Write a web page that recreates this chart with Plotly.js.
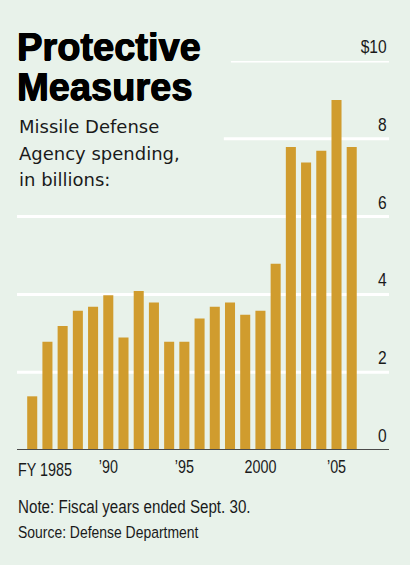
<!DOCTYPE html>
<html>
<head>
<meta charset="utf-8">
<script src="https://cdn.plot.ly/plotly-3.0.1.min.js"></script>
<style>
html,body{margin:0;padding:0;background:#ffffff;}
#chart{width:410px;height:565px;}
</style>
</head>
<body>
<div id="chart"></div>
<script>
// Data
const years = [1985,1986,1987,1988,1989,1990,1991,1992,1993,1994,1995,1996,1997,1998,1999,2000,2001,2002,2003,2004,2005,2006];
const spending = [1.38,2.78,3.19,3.58,3.68,3.98,2.89,4.09,3.79,2.78,2.78,3.38,3.68,3.79,3.48,3.58,4.79,7.79,7.39,7.69,9.0,7.79];
const xTickVals = [1990,1995,2000,2005];
const xTickText = ["\u201990","\u201995","2000","\u201905"];
const firstLabel = "FY 1985";
const yTickVals = [0,2,4,6,8,10];
const yTickText = ["0","2","4","6","8","$10"];
const gridStart = [0,0,0,0,0.556,0.575]; // gridlines at 8 and 10 stop short of the headline

const BG = '#e8f2ea';
const BAR = '#d09c2e';
const SANS = '"Liberation Sans", Arial, sans-serif';
const NARROW_SCALE = 0.82; // Arial -> Arial Narrow proportions

// plot area geometry (pixels) for placing text
const W = 410, H = 565;
const M = {l:17, r:21, t:61.3, b:H-450.3};
const ph = H - M.t - M.b, pw = W - M.l - M.r;
const py = px => (H - M.b - px) / ph;     // pixel y -> paper y
const pxx = px => (px - M.l) / pw;        // pixel x -> paper x

const annotations = [];
const narrowIdx = {};
function txt(text, x, base, size, family, asc, color, weight, narrow, shadow){
  if (narrow) narrowIdx[annotations.length] = 'left';
  const font = {family:family, size:size, color:color||'#111', weight:weight||'normal'};
  if (shadow) font.shadow = shadow;
  annotations.push({text:text, xref:'paper', yref:'paper', x:pxx(x), y:py(base - 1 - asc*size),
    xanchor:'left', yanchor:'top', showarrow:false, align:'left', font:font});
}
// Headline (heavy)
const heavy = '0.7px 0 0 #000, -0.4px 0 0 #000, 0 0.5px 0 #000';
txt('Protective', 15, 60, 38, SANS, 0.905, '#000', 'bold', false, heavy);
txt('Measures', 15, 100, 38, SANS, 0.905, '#000', 'bold', false, heavy);
// Subtitle
const sub = ['Missile Defense','Agency spending,','in billions:'];
const subBase = [132.5,159,185.5];
sub.forEach((s,i)=> txt(s, 17, subBase[i], 18, '"DejaVu Sans", sans-serif', 0.928, '#1a1a1a'));
// Notes
txt('Note: Fiscal years ended Sept. 30.', 16, 512, 18.5, SANS, 0.905, '#1a1a1a', 'normal', true);
txt('Source: Defense Department', 16, 538, 17, SANS, 0.905, '#1a1a1a', 'normal', true);
// First x label
txt(firstLabel, 16, 475, 17.5, SANS, 0.905, '#1a1a1a', 'normal', true);

// y tick labels above gridlines, right aligned
yTickVals.forEach((v,i)=>{
  narrowIdx[annotations.length] = 'right';
  annotations.push({text:yTickText[i], xref:'paper', yref:'y', x:1, y:v,
    xanchor:'right', yanchor:'bottom', yshift:2, showarrow:false,
    font:{family:SANS, size:19, color:'#1a1a1a'}});
});

// gridlines
const shapes = yTickVals.map((v,i)=>({v:v,i:i})).filter(o=>o.v>0).map(o=>({
  type:'line', layer:'below', xref:'paper', yref:'y',
  x0:gridStart[o.i], x1:1, y0:o.v, y1:o.v,
  line:{color:'#ffffff', width:3}
}));
shapes.push({type:'line', layer:'above', xref:'paper', yref:'y', x0:0, x1:1, y0:0, y1:0,
  line:{color:'#4a4a4a', width:2}});

const trace = {
  type:'bar', x:years, y:spending,
  marker:{color:BAR, line:{width:0}},
  hoverinfo:'x+y'
};

const layout = {
  width:W, height:H,
  margin:M,
  paper_bgcolor:BG, plot_bgcolor:BG,
  showlegend:false,
  bargap:0.34,
  xaxis:{range:[1984.0,2008.45], tickvals:xTickVals, ticktext:xTickText,
    showgrid:false, zeroline:false, showline:false, ticks:'', ticklabelstandoff:5,
    tickfont:{family:SANS, size:17.5, color:'#1a1a1a'}, fixedrange:true},
  yaxis:{range:[0,10], showgrid:false, zeroline:false, showticklabels:false, ticks:'', fixedrange:true},
  annotations:annotations,
  shapes:shapes
};

function squeeze(el, mode){
  const b = el.getBBox();
  const cx = mode === 'left' ? b.x : mode === 'right' ? b.x + b.width : b.x + b.width/2;
  const t = el.getAttribute('transform') || '';
  el.setAttribute('transform', t + ' translate(' + cx + ',0) scale(' + NARROW_SCALE + ',1) translate(' + (-cx) + ',0)');
}

Plotly.newPlot('chart', [trace], layout, {displayModeBar:false, staticPlot:true}).then(gd=>{
  gd.querySelectorAll('g.annotation').forEach(g=>{
    const idx = g.getAttribute('data-index');
    const mode = narrowIdx[idx];
    if (mode) { const t = g.querySelector('text.annotation-text'); if (t) squeeze(t, mode); }
  });
  gd.querySelectorAll('g.xtick text').forEach(t=>squeeze(t,'center'));
});
</script>
</body>
</html>
